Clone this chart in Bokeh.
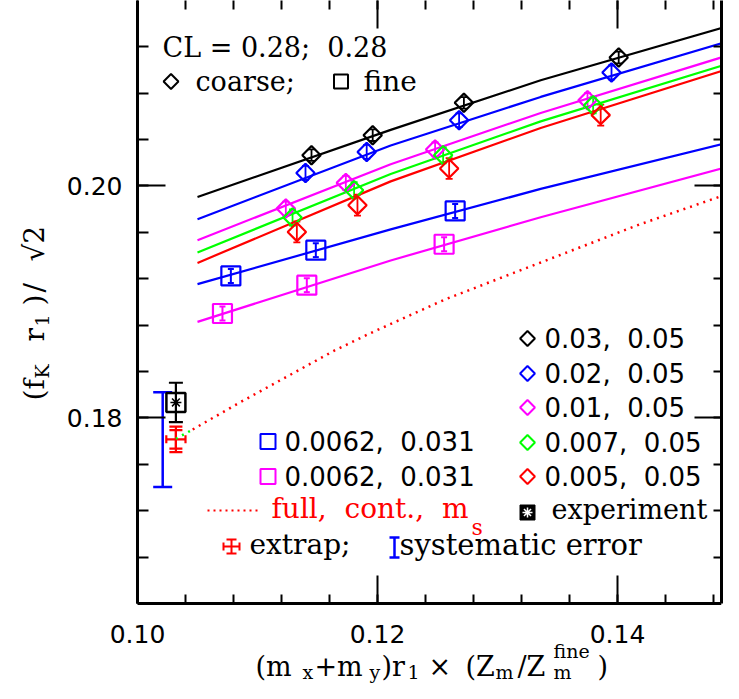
import numpy as np
from bokeh.plotting import figure
from bokeh.models import (Range1d, LinearAxis, SingleIntervalTicker, ColumnDataSource,
                          Whisker, TeeHead, Label, NumeralTickFormatter, CustomJSTickFormatter)
from bokeh.embed import file_html
from bokeh.resources import INLINE

# ---------------- data ----------------
# coarse ensembles (diamonds), sea-quark masses m_l, m_s
c003_x = [0.1145, 0.1196, 0.1272, 0.1401]
c003_y = [0.20265, 0.20437, 0.20716, 0.21107]
c003_e = [0.0005, 0.0005, 0.0005, 0.0005]

c002_x = [0.1140, 0.1191, 0.1268, 0.1395]
c002_y = [0.20112, 0.20293, 0.20566, 0.20978]
c002_e = [0.0006, 0.0006, 0.0006, 0.0006]

c001_x = [0.11236, 0.11736, 0.1248, 0.1375]
c001_y = [0.19805, 0.20026, 0.20314, 0.20739]
c001_e = [0.0006, 0.0006, 0.0006, 0.0006]

c0007_x = [0.11292, 0.11805, 0.12547, 0.13797]
c0007_y = [0.19728, 0.19963, 0.20265, 0.20696]
c0007_e = [0.0007, 0.0007, 0.0007, 0.0007]

c0005_x = [0.11328, 0.11833, 0.12597, 0.1386]
c0005_y = [0.19603, 0.19834, 0.20150, 0.20610]
c0005_e = [0.0009, 0.0009, 0.0009, 0.0009]

# fine ensembles (squares)
f_blue_x = [0.10778, 0.11486, 0.12647]
f_blue_y = [0.19224, 0.19446, 0.19784]
f_blue_e = [0.0006, 0.0006, 0.0006]

f_mag_x = [0.10708, 0.11411, 0.12555]
f_mag_y = [0.18900, 0.19144, 0.19497]
f_mag_e = [0.0006, 0.0006, 0.0006]

# fit curves
fit_x = [0.105, 0.1211, 0.1336, 0.150]
fit_black = [0.19905, 0.20483, 0.20911, 0.21400]
fit_blue = [0.19713, 0.20348, 0.20767, 0.21271]
fit_mag = [0.19532, 0.20187, 0.20629, 0.21150]
fit_green = [0.19426, 0.20103, 0.20556, 0.21078]
fit_red = [0.19336, 0.20039, 0.20499, 0.21034]
fit_fblue = [0.19153, 0.19625, 0.19974, 0.20394]
fit_fmag = [0.18828, 0.19357, 0.19730, 0.20187]

# full QCD, continuum, m_s curve (dotted)
full_x = [0.1046, 0.1083, 0.1164, 0.1194, 0.1256, 0.1336, 0.1419, 0.1500]
full_y = [0.1790, 0.1812, 0.1858, 0.1873, 0.1902, 0.1934, 0.1967, 0.1996]
chiral_x = [0.1032, 0.1046]
chiral_y = [0.1782, 0.1790]

# extrapolated point, experiment, systematic error
extrap_x = [0.1032]
extrap_y = [0.17815]
extrap_ey_out = [0.0011]
extrap_ey_in = [0.0008]
extrap_ex = [0.0008]
exp_x = [0.1032]
exp_y = [0.18133]
exp_e = [0.0017]
sys_x = [0.1021]
sys_lo = [0.17405]
sys_hi = [0.18222]

NB = "\u00a0"
coarse_labels = ["0.03," + NB + " 0.05", "0.02," + NB + " 0.05", "0.01," + NB + " 0.05",
                 "0.007," + NB + " 0.05", "0.005," + NB + " 0.05"]
fine_labels = ["0.0062," + NB + " 0.031", "0.0062," + NB + " 0.031"]

X_LO, X_HI = 0.10, 0.15
Y_LO = 0.164

BLACK, BLUE, MAG, GREEN, RED = "#000000", "#0000ff", "#ff00ff", "#00ff00", "#ff0000"

# ---------------- figure geometry ----------------
W, H = 723, 683
BOX_L, BOX_B = 137, 603          # canvas px of the visible box's left / bottom edges
FR = 2
SX, SY = 12000.0, 11600.0        # px per data unit
x_start = X_LO - BOX_L / SX
x_end = X_LO + (W - FR - BOX_L) / SX
y_start = Y_LO - (H - BOX_B) / SY
y_end = Y_LO + BOX_B / SY

p = figure(width=W, height=H,
           x_range=Range1d(x_start, x_end), y_range=Range1d(y_start, y_end),
           output_backend="svg", toolbar_location=None,
           min_border_left=0, min_border_right=FR, min_border_top=0, min_border_bottom=0)
p.outline_line_color = None
p.xgrid.grid_line_color = None
p.ygrid.grid_line_color = None
p.background_fill_color = "white"
p.border_fill_color = "white"


def style_axis(ax, maj_in, min_in, bounds, labels=True, line=True):
    ax.ticker = SingleIntervalTicker(interval=0.02, num_minor_ticks=5)
    ax.bounds = bounds
    ax.major_tick_in = maj_in
    ax.major_tick_out = 0
    ax.minor_tick_in = min_in
    ax.minor_tick_out = 0
    ax.major_tick_line_width = 2
    ax.minor_tick_line_width = 2
    ax.major_tick_line_color = "black"
    ax.minor_tick_line_color = "black"
    ax.axis_line_width = 3
    ax.axis_line_color = "black" if line else None
    if labels:
        ax.formatter = NumeralTickFormatter(format="0.00")
        ax.major_label_text_font = "DejaVu Sans"
        ax.major_label_text_font_size = "25px"
        ax.major_label_text_color = "black"
    else:
        ax.formatter = CustomJSTickFormatter(code="return ''")
        ax.major_label_text_font_size = "1px"
        ax.major_label_standoff = 0


xb = p.xaxis[0]
style_axis(xb, 28, 9, (X_LO, x_end))
xb.fixed_location = Y_LO
xb.major_label_standoff = 21
yl_ax = p.yaxis[0]
style_axis(yl_ax, 28, 11, (Y_LO, y_end))
yl_ax.fixed_location = X_LO
yl_ax.major_label_standoff = 15

top = LinearAxis()
style_axis(top, 28, 9, (X_LO, x_end), labels=False, line=False)
p.add_layout(top, "above")
right = LinearAxis()
style_axis(right, 27, 8, (Y_LO, y_end), labels=False)
p.add_layout(right, "right")

# ---------------- fit curves ----------------
for ys, c in [(fit_black, BLACK), (fit_blue, BLUE), (fit_mag, MAG), (fit_green, GREEN),
              (fit_red, RED), (fit_fblue, BLUE), (fit_fmag, MAG)]:
    p.line(fit_x, ys, line_color=c, line_width=2.2)

p.line(full_x, full_y, line_color=RED, line_width=2.5, line_dash="2 5")
p.line(chiral_x, chiral_y, line_color=GREEN, line_width=2.5, line_dash="2 5")


def errbars(xs, ys, es, c, head, lw):
    src = ColumnDataSource(dict(x=xs, lo=[y - e for y, e in zip(ys, es)],
                                hi=[y + e for y, e in zip(ys, es)]))
    p.add_layout(Whisker(source=src, base="x", lower="lo", upper="hi", dimension="height",
                         line_color=c, line_width=lw,
                         upper_head=TeeHead(size=head, line_color=c, line_width=lw),
                         lower_head=TeeHead(size=head, line_color=c, line_width=lw)))


# coarse diamonds
for xs, ys, es, c in [(c003_x, c003_y, c003_e, BLACK), (c002_x, c002_y, c002_e, BLUE),
                      (c001_x, c001_y, c001_e, MAG), (c0007_x, c0007_y, c0007_e, GREEN),
                      (c0005_x, c0005_y, c0005_e, RED)]:
    p.scatter(xs, ys, marker="square", angle=np.pi / 4, size=13, fill_color=None,
              line_color=c, line_width=2.2)
    errbars(xs, ys, es, c, 7, 1.8)

# fine squares
for xs, ys, es, c in [(f_blue_x, f_blue_y, f_blue_e, BLUE), (f_mag_x, f_mag_y, f_mag_e, MAG)]:
    p.scatter(xs, ys, marker="square", size=19, fill_color=None, line_color=c, line_width=2.2)
    errbars(xs, ys, es, c, 6, 2)

# systematic error bar
src_sys = ColumnDataSource(dict(x=sys_x, lo=sys_lo, hi=sys_hi))
p.add_layout(Whisker(source=src_sys, base="x", lower="lo", upper="hi", dimension="height",
                     line_color=BLUE, line_width=2.5,
                     upper_head=TeeHead(size=19, line_color=BLUE, line_width=2.5),
                     lower_head=TeeHead(size=19, line_color=BLUE, line_width=2.5)))

# experiment
p.scatter(exp_x, exp_y, marker="square", size=19, fill_color=None, line_color=BLACK, line_width=2.5)
p.scatter(exp_x, exp_y, marker="asterisk", size=11, line_color=BLACK, line_width=1.5)
errbars(exp_x, exp_y, exp_e, BLACK, 14, 2.2)

# extrapolated point
errbars(extrap_x, extrap_y, extrap_ey_out, RED, 13, 2.2)
errbars(extrap_x, extrap_y, extrap_ey_in, RED, 13, 2.2)
src_ex = ColumnDataSource(dict(y=extrap_y, lo=[x - e for x, e in zip(extrap_x, extrap_ex)],
                               hi=[x + e for x, e in zip(extrap_x, extrap_ex)]))
p.add_layout(Whisker(source=src_ex, base="y", lower="lo", upper="hi", dimension="width",
                     line_color=RED, line_width=2.2,
                     upper_head=TeeHead(size=8, line_color=RED, line_width=2.2),
                     lower_head=TeeHead(size=8, line_color=RED, line_width=2.2)))


# ---------------- layout helpers (canvas pixel -> data) ----------------
def X(px):
    return X_LO + (px - BOX_L) / SX


def Y(py):
    return Y_LO + (BOX_B - py) / SY


def lab(px, py, txt, size, color="black", font="DejaVu Serif", angle=0.0, baseline="middle"):
    p.add_layout(Label(x=X(px), y=Y(py), text=txt, text_font=font,
                       text_font_size=f"{size}px", text_color=color, text_align="left",
                       text_baseline=baseline, angle=angle))


# top-left annotation
lab(162, 47, "CL = 0.28;" + NB + " 0.28", 27)
p.scatter([X(170.5)], [Y(81)], marker="square", angle=np.pi / 4, size=10.5,
          fill_color=None, line_color=BLACK, line_width=2)
lab(195, 81, "coarse;", 27)
p.scatter([X(340.5)], [Y(81)], marker="square", size=14, fill_color=None,
          line_color=BLACK, line_width=2)
lab(363, 81, "fine", 28)

# right legend column
rows_y = [338, 373, 407, 442, 476]
for py, txt, c in zip(rows_y, coarse_labels, [BLACK, BLUE, MAG, GREEN, RED]):
    p.scatter([X(527)], [Y(py)], marker="square", angle=np.pi / 4, size=10.5,
              fill_color=None, line_color=c, line_width=2)
    lab(544, py, txt, 26, font="DejaVu Sans")

p.scatter([X(527)], [Y(512)], marker="square", size=15, fill_color=BLACK, line_color=BLACK)
p.scatter([X(527)], [Y(512)], marker="asterisk", size=10, line_color="white", line_width=1.5)
lab(551, 509, "experiment", 27)

# left legend column
for py, txt, c in zip([441, 476], fine_labels, [BLUE, MAG]):
    p.scatter([X(267.5)], [Y(py)], marker="square", size=15, fill_color=None,
              line_color=c, line_width=2)
    lab(284, py, txt, 26, font="DejaVu Sans")

p.line([X(207), X(258)], [Y(510), Y(510)], line_color=RED, line_width=2, line_dash="2 4")
lab(271, 508, "full," + NB + " cont.," + NB + " m", 28, color=RED)
lab(471, 527, "s", 22, color=RED, baseline="alphabetic")

# extrap legend symbol
p.segment([X(231)], [Y(539)], [X(231)], [Y(553)], line_color=RED, line_width=2)
p.segment([X(223)], [Y(546)], [X(239)], [Y(546)], line_color=RED, line_width=2)
p.segment([X(226)], [Y(539)], [X(236)], [Y(539)], line_color=RED, line_width=2)
p.segment([X(226)], [Y(553)], [X(236)], [Y(553)], line_color=RED, line_width=2)
p.segment([X(223)], [Y(542)], [X(223)], [Y(550)], line_color=RED, line_width=2)
p.segment([X(239)], [Y(542)], [X(239)], [Y(550)], line_color=RED, line_width=2)
lab(249, 544, "extrap;", 28)

# systematic legend symbol
p.segment([X(394)], [Y(537)], [X(394)], [Y(557)], line_color=BLUE, line_width=2.5)
p.segment([X(389)], [Y(537)], [X(399)], [Y(537)], line_color=BLUE, line_width=2.5)
p.segment([X(389)], [Y(557)], [X(399)], [Y(557)], line_color=BLUE, line_width=2.5)
lab(399, 544, "systematic" + NB + "error", 29)

# ---------------- axis titles (pieces, for sub/superscripts) ----------------
# (x px, baseline px, text, font px) -> drawn with a "middle" anchor
xl = [(255, 675, "(m", 27), (302, 678, "x", 19), (314, 675, "+m", 27), (369, 678, "y", 19),
      (381, 675, ")r", 27), (407, 678, "1", 19), (428, 675, "\u00d7", 27), (465, 675, "(Z", 27),
      (495, 678, "m", 19), (517, 675, "/Z", 27), (553, 678, "m", 19), (553, 657, "fine", 19),
      (597, 675, ")", 27)]
for px, py, t, s in xl:
    lab(px, py - 0.346 * s, t, s, baseline="middle")

yl = [(34, 400, "(f", 28), (41, 378, "K", 19), (34, 341, "r", 28), (41, 326, "1", 19),
      (34, 305, ")", 28), (34, 292, "/", 28), (34, 261, "\u221a2", 28)]
for px, py, t, s in yl:
    lab(px, py, t, s, angle=np.pi / 2, baseline="alphabetic")

open("out.html", "w").write(file_html(p, INLINE))
